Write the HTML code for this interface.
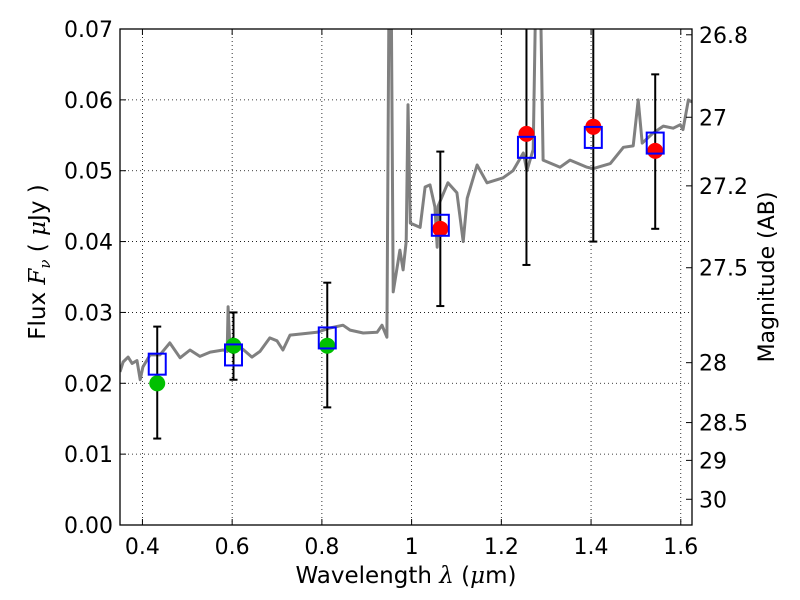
<!DOCTYPE html>
<html><head><meta charset="utf-8">
<style>
body{margin:0;background:#fff;}
svg{display:block;font-family:"DejaVu Sans","Liberation Sans",sans-serif;}
</style></head>
<body>
<svg id="chart" width="800" height="600">
  <rect x="0" y="0" width="800" height="600" fill="#fff"/>
  <defs><clipPath id="plotclip"><rect x="120" y="29" width="572" height="496"/></clipPath></defs>
  <g id="grid"></g>
  <g id="marks" clip-path="url(#plotclip)"></g>
  <g id="marks2"></g>
  <rect x="120" y="29" width="572" height="496" fill="none" stroke="#000" stroke-width="1.3"/>
  <g id="axes"></g>
  <text x="406" y="583" font-size="23" text-anchor="middle">Wavelength  <tspan font-style="italic" font-family="DejaVu Serif,serif">λ</tspan> (<tspan font-style="italic" font-family="DejaVu Serif,serif">μ</tspan>m)</text>
  <text transform="translate(45,262) rotate(-90)" font-size="23" text-anchor="middle">Flux  <tspan font-style="italic" font-family="DejaVu Serif,serif">F<tspan font-size="15" dy="5">ν</tspan></tspan><tspan dy="-5">  (  </tspan><tspan font-style="italic" font-family="DejaVu Serif,serif">μ</tspan>Jy )</text>
  <text transform="translate(774,277) rotate(-90)" font-size="22" text-anchor="middle">Magnitude (AB)</text>
</svg>
<script>
const specLambda=[0.350,0.357,0.368,0.377,0.388,0.395,0.401,0.417,0.439,0.461,0.484,0.506,0.528,0.551,0.580,0.589,0.591,0.595,0.624,0.644,0.662,0.684,0.700,0.713,0.729,0.758,0.789,0.818,0.847,0.863,0.892,0.923,0.934,0.945,0.950,0.954,0.959,0.974,0.981,0.988,0.992,0.997,1.019,1.030,1.041,1.052,1.057,1.059,1.081,1.101,1.115,1.124,1.146,1.168,1.204,1.226,1.249,1.257,1.271,1.278,1.286,1.293,1.331,1.353,1.391,1.405,1.443,1.472,1.494,1.505,1.514,1.538,1.561,1.583,1.599,1.605,1.617,1.625];
const specFlux=[0.0216,0.0230,0.0237,0.0228,0.0232,0.0205,0.0223,0.0240,0.0240,0.0257,0.0236,0.0247,0.0238,0.0244,0.0247,0.0245,0.0308,0.0250,0.0248,0.0237,0.0245,0.0264,0.0260,0.0247,0.0268,0.0270,0.0272,0.0278,0.0282,0.0275,0.0271,0.0272,0.0282,0.0265,0.0800,0.0800,0.0329,0.0388,0.0360,0.0400,0.0593,0.0426,0.0420,0.0477,0.0480,0.0449,0.0392,0.0450,0.0483,0.0469,0.0400,0.0461,0.0508,0.0483,0.0490,0.0500,0.0525,0.0500,0.0530,0.0800,0.0800,0.0515,0.0505,0.0515,0.0505,0.0503,0.0510,0.0533,0.0535,0.0600,0.0539,0.0553,0.0563,0.0560,0.0565,0.0558,0.0600,0.0597];
const bandLambda=[0.433,0.603,0.812,1.064,1.256,1.405,1.543];
const obsFlux=[0.0200,0.0253,0.0253,0.0418,0.0552,0.0562,0.0528];
const obsColor=["#00c000","#00c000","#00c000","#ff0000","#ff0000","#ff0000","#ff0000"];
const modelFlux=[0.0227,0.0240,0.0264,0.0423,0.0533,0.0547,0.0539];
const errHigh=[0.0280,0.0300,0.0342,0.0527,0.0800,0.0800,0.0636];
const errLow=[0.0122,0.0205,0.0166,0.0309,0.0367,0.0400,0.0418];
const xTicks=[0.4,0.6,0.8,1.0,1.2,1.4,1.6];
const xTickLabels=["0.4","0.6","0.8","1","1.2","1.4","1.6"];
const yTicks=[0,0.01,0.02,0.03,0.04,0.05,0.06,0.07];
const yTickLabels=["0.00","0.01","0.02","0.03","0.04","0.05","0.06","0.07"];
const magTicks=[26.8,27,27.2,27.5,28,28.5,29,30];
const magTickLabels=["26.8","27","27.2","27.5","28","28.5","29","30"];

const X0=120,X1=692,Y0=525,Y1=29,LMIN=0.35,LMAX=1.625,FMIN=0,FMAX=0.07;
const xs=v=>X0+(v-LMIN)/(LMAX-LMIN)*(X1-X0);
const ys=v=>Y0-(v-FMIN)/(FMAX-FMIN)*(Y0-Y1);
const magToFlux=m=>Math.pow(10,(23.9-m)/2.5);
const NS="http://www.w3.org/2000/svg";
function mk(tag,attrs,parent){const e=document.createElementNS(NS,tag);for(const k in attrs)e.setAttribute(k,attrs[k]);parent.appendChild(e);return e;}
const grid=document.getElementById('grid'),axes=document.getElementById('axes'),marks=document.getElementById('marks'),marks2=document.getElementById('marks2');

xTicks.forEach((t,i)=>{
  const x=xs(t);
  const g=mk('line',{x1:x,x2:x,y1:Y1,y2:Y0,stroke:'#000','stroke-width':0.8,'stroke-dasharray':'1,3'},grid);
  
  
  mk('line',{x1:x,x2:x,y1:Y0,y2:Y0-6,stroke:'#000','stroke-width':1},axes);
  mk('line',{x1:x,x2:x,y1:Y1,y2:Y1+6,stroke:'#000','stroke-width':1},axes);
  const tx=mk('text',{x:x,y:554,'font-size':22,'text-anchor':'middle'},axes);
  tx.textContent=xTickLabels[i];
  
  
});
yTicks.forEach((t,i)=>{
  const y=ys(t);
  if(i>0&&i<yTicks.length-1){
    const g=mk('line',{x1:X0,x2:X1,y1:y,y2:y,stroke:'#000','stroke-width':0.8,'stroke-dasharray':'1,3'},grid);
    
    
  }
  mk('line',{x1:X0,x2:X0+6,y1:y,y2:y,stroke:'#000','stroke-width':1},axes);
  const tx=mk('text',{x:113,y:y+8,'font-size':22,'text-anchor':'end'},axes);
  tx.textContent=yTickLabels[i];
  
  
});
magTicks.forEach((m,i)=>{
  const y=ys(magToFlux(m));
  mk('line',{x1:X1-6,x2:X1,y1:y,y2:y,stroke:'#000','stroke-width':1},axes);
  const tx=mk('text',{x:699,y:y+8,'font-size':22,'text-anchor':'start'},axes);
  tx.textContent=magTickLabels[i];
  
  
});

const pts=specLambda.map((l,i)=>xs(l).toFixed(1)+','+ys(specFlux[i]).toFixed(1)).join(' ');
const spec=mk('polyline',{points:pts,fill:'none',stroke:'#808080','stroke-width':3,'stroke-linejoin':'round'},marks);



bandLambda.forEach((l,i)=>{
  const x=xs(l);
  const eb=mk('g',{},marks);
  
  
  mk('line',{x1:x,x2:x,y1:ys(errHigh[i]),y2:ys(errLow[i]),stroke:'#000','stroke-width':2},eb);
  mk('line',{x1:x-4,x2:x+4,y1:ys(errHigh[i]),y2:ys(errHigh[i]),stroke:'#000','stroke-width':2},eb);
  mk('line',{x1:x-4,x2:x+4,y1:ys(errLow[i]),y2:ys(errLow[i]),stroke:'#000','stroke-width':2},eb);
  const c=mk('circle',{cx:x,cy:ys(obsFlux[i]),r:8,fill:obsColor[i]},marks2);
  
  
  const b=mk('rect',{x:x-8.5,y:ys(modelFlux[i])-10.5,width:17,height:21,fill:'none',stroke:'#0000ff','stroke-width':2},marks2);
  
  
});
</script>
</body></html>
